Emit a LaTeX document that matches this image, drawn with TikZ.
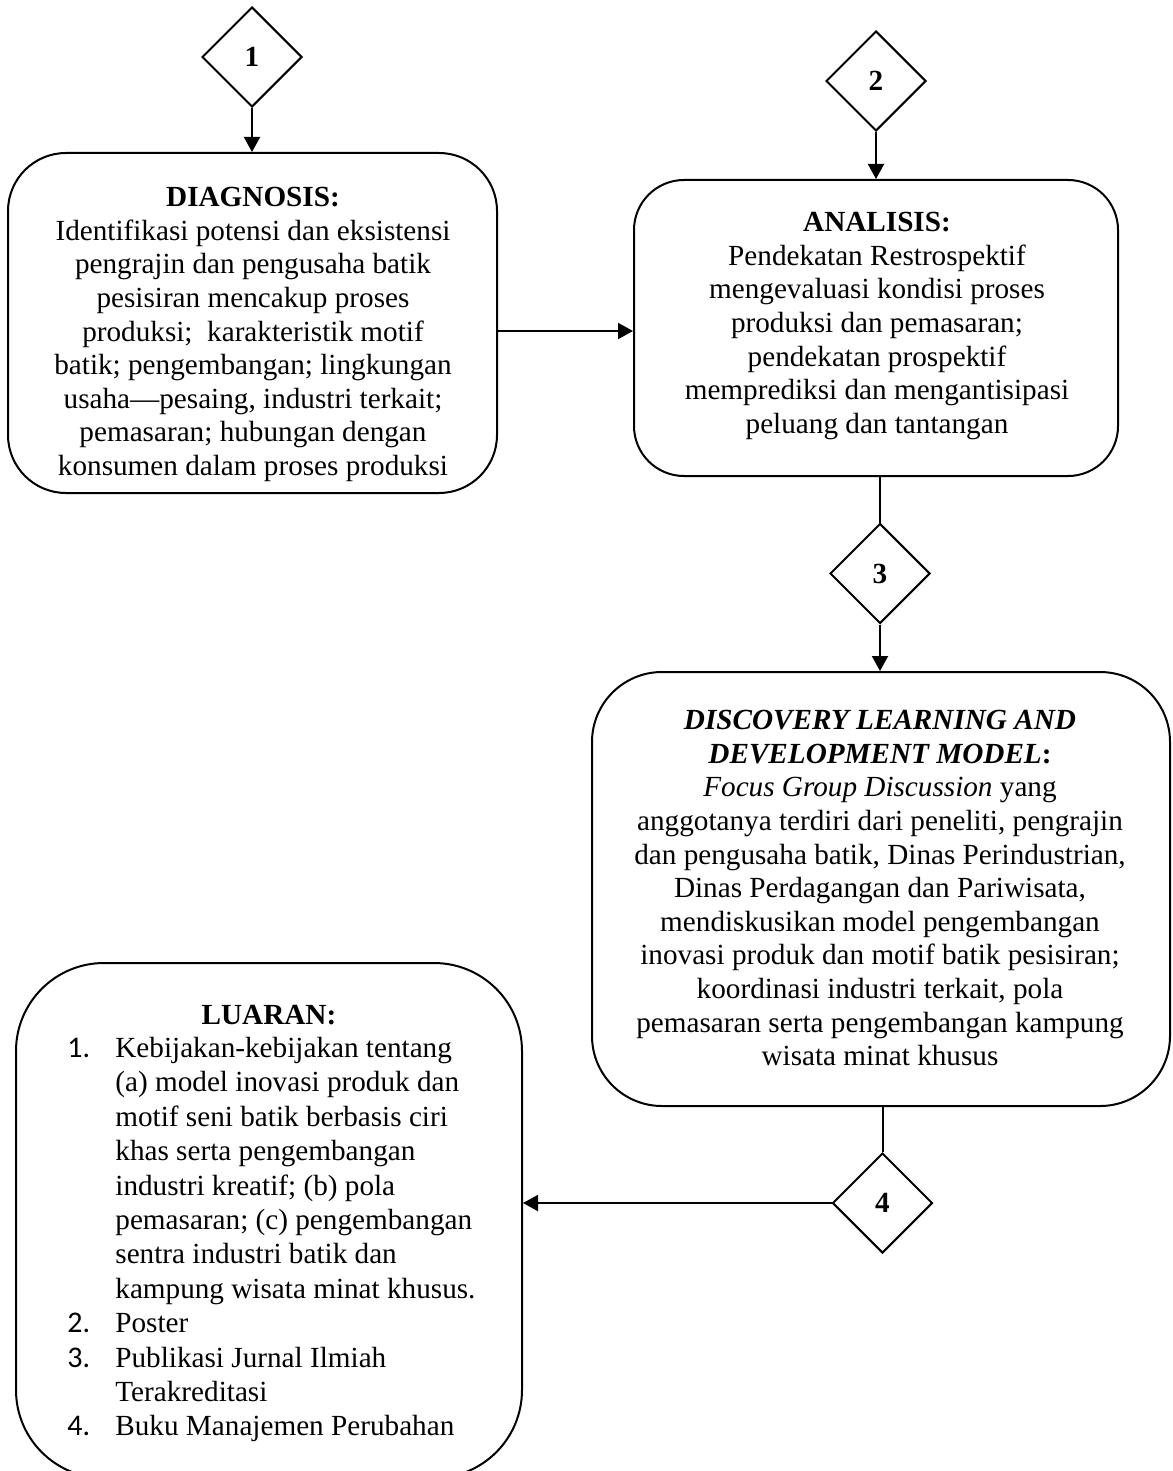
\documentclass[tikz,border=0pt]{standalone}
\usepackage{fontspec}
\setmainfont{Liberation Serif}
\newfontfamily\numfont{Carlito}
\usetikzlibrary{shapes.geometric,arrows.meta}
\newcommand\lnum[1]{{\numfont\fontsize{15}{17.2}\selectfont #1}}
\begin{document}
\begin{tikzpicture}[x=0.5pt,y=-0.5pt,
  box/.style={draw, line width=1pt, rectangle, inner sep=0pt},
  dia/.style={draw, line width=1pt, diamond, aspect=1, inner sep=0pt, minimum size=50pt,
    font=\fontsize{14.6}{16}\selectfont\bfseries},
  txt/.style={inner sep=0pt, align=center, font=\fontsize{14.6}{16.8}\selectfont},
  arr/.style={line width=1pt, -{Triangle[length=7.5pt,width=8pt]}},
  lin/.style={line width=1pt}]
\useasboundingbox (0,0) rectangle (1172,1471);
\clip (0,0) rectangle (1172,1471);

% boxes
\node[box, minimum width=244.5pt, minimum height=170pt, rounded corners=29pt] (DIAG) at (252.5,323) {};
\node[box, minimum width=242pt, minimum height=148pt, rounded corners=25pt] (ANAL) at (876,328) {};
\node[box, minimum width=289pt, minimum height=217pt, rounded corners=35pt] (DISC) at (881,889) {};
\node[box, minimum width=253pt, minimum height=257.5pt, rounded corners=44pt] (LUAR) at (269,1220.5) {};

% diamonds
\node[dia] (d1) at (252,57) {1};
\node[dia] (d2) at (876,81) {2};
\node[dia] (d3) at (880,573.5) {3};
\node[dia] (d4) at (882.5,1203) {4};

% connectors
\draw[arr] (d1.south) -- (d1.south |- DIAG.north);
\draw[arr] (d2.south) -- (d2.south |- ANAL.north);
\coordinate (h1) at ([yshift=-4pt]DIAG.east);
\draw[arr] (h1) -- (h1 -| ANAL.west);
\draw[lin] (d3.north |- ANAL.south) -- (d3.north);
\draw[arr] (d3.south) -- (d3.south |- DISC.north);
\draw[lin] (d4.north |- DISC.south) -- (d4.north);
\draw[arr] (d4.west) -- (d4.west -| LUAR.east);

% texts
\node[txt, anchor=north] (diagT) at (253,187) {\textbf{DIAGNOSIS:}\\
Identifikasi potensi dan eksistensi\\
pengrajin dan pengusaha batik\\
pesisiran mencakup proses\\
produksi;\ \ karakteristik motif\\
batik; pengembangan; lingkungan\\
usaha—pesaing, industri terkait;\\
pemasaran; hubungan dengan\\
konsumen dalam proses produksi};

\node[txt, anchor=north] (analT) at (877,212) {\textbf{ANALISIS:}\\
Pendekatan Restrospektif\\
mengevaluasi kondisi proses\\
produksi dan pemasaran;\\
pendekatan prospektif\\
memprediksi dan mengantisipasi\\
peluang dan tantangan};

\node[txt, anchor=north] (discT) at (880,710) {\textbf{\textit{DISCOVERY LEARNING AND}}\\
\textbf{\textit{DEVELOPMENT MODEL}:}\\
\textit{Focus Group Discussion} yang\\
anggotanya terdiri dari peneliti, pengrajin\\
dan pengusaha batik, Dinas Perindustrian,\\
Dinas Perdagangan dan Pariwisata,\\
mendiskusikan model pengembangan\\
inovasi produk dan motif batik pesisiran;\\
koordinasi industri terkait, pola\\
pemasaran serta pengembangan kampung\\
wisata minat khusus};

\node[txt, anchor=north] (luarT) at (269,1005) {\textbf{LUARAN:}};
\node[inner sep=0pt, anchor=north west, font=\fontsize{14.6}{17.2}\selectfont] (luarL) at (67,1033) {%
\begin{tabular}{@{}p{24pt}@{}l@{}}
\lnum{1.} & Kebijakan-kebijakan tentang\\
 & (a) model inovasi produk dan\\
 & motif seni batik berbasis ciri\\
 & khas serta pengembangan\\
 & industri kreatif; (b) pola\\
 & pemasaran; (c) pengembangan\\
 & sentra industri batik dan\\
 & kampung wisata minat khusus.\\
\lnum{2.} & Poster\\
\lnum{3.} & Publikasi Jurnal Ilmiah\\
 & Terakreditasi\\
\lnum{4.} & Buku Manajemen Perubahan
\end{tabular}};
\end{tikzpicture}
\end{document}
